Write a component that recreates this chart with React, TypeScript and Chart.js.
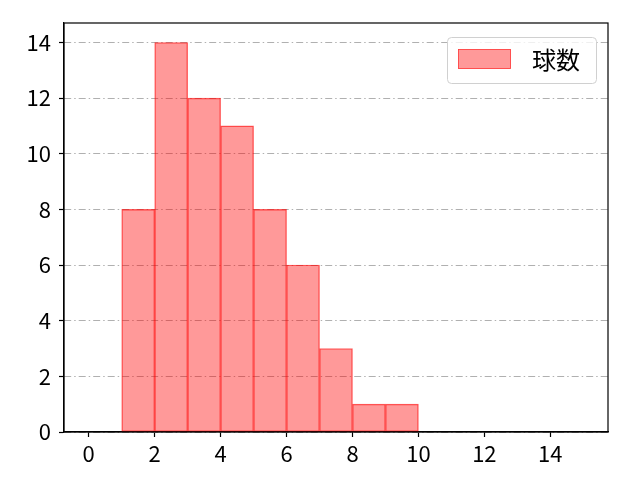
import React, { useEffect, useRef } from 'react';
import Chart from 'chart.js/auto';

// histogram bins (left edge .. left edge + 1) and counts
const binCenters = [1.5, 2.5, 3.5, 4.5, 5.5, 6.5, 7.5, 8.5, 9.5];
const counts = [8, 14, 12, 11, 8, 6, 3, 1, 1];
const seriesLabel = '球数';

const FONT = '"Noto Sans CJK JP", "Noto Sans", sans-serif';
const FILL = 'rgba(255, 0, 0, 0.4)';
const EDGE = 'rgba(255, 0, 0, 0.6)';

const framePlugin = {
  id: 'frame',
  afterDraw(chart: any) {
    const { ctx, chartArea: a } = chart;
    ctx.save();
    ctx.strokeStyle = '#000';
    ctx.lineWidth = 1.2;
    ctx.strokeRect(a.left, a.top, a.right - a.left, a.bottom - a.top);
    ctx.restore();
  },
};

const legendPlugin = {
  id: 'boxLegend',
  afterDraw(chart: any) {
    const { ctx, chartArea: a } = chart;
    const w = 149, h = 46;
    const x = a.right - 161, y = a.top + 14;
    ctx.save();
    ctx.beginPath();
    ctx.roundRect(x + 0.5, y + 0.5, w, h, 4);
    ctx.fillStyle = 'rgba(255,255,255,0.8)';
    ctx.fill();
    ctx.strokeStyle = '#d0d0d0';
    ctx.lineWidth = 1;
    ctx.stroke();
    ctx.fillStyle = FILL;
    ctx.fillRect(x + 11, y + 12, 53, 20);
    ctx.strokeStyle = EDGE;
    ctx.lineWidth = 0.8;
    ctx.strokeRect(x + 11.5, y + 12.5, 52, 19);
    ctx.fillStyle = '#000';
    ctx.font = `24px ${FONT}`;
    ctx.textBaseline = 'middle';
    ctx.fillText(chart.data.datasets[0].label, x + 85, y + 23);
    ctx.restore();
  },
};

export default function App() {
  const canvasRef = useRef<HTMLCanvasElement>(null);
  const chartRef = useRef<Chart>();

  useEffect(() => {
    if (!canvasRef.current) return;
    chartRef.current?.destroy();
    chartRef.current = new Chart(canvasRef.current, {
      type: 'bar',
      data: {
        datasets: [{
          label: seriesLabel,
          data: binCenters.map((x, i) => ({ x, y: counts[i] })),
          backgroundColor: FILL,
          borderColor: EDGE,
          borderWidth: 0.7,
          borderSkipped: false,
          barPercentage: 1,
          categoryPercentage: 1,
        }],
      },
      options: {
        animation: false,
        responsive: true,
        maintainAspectRatio: false,
        layout: { padding: { top: 23, right: 32, left: 0, bottom: 0 } },
        plugins: { legend: { display: false }, tooltip: { enabled: false } },
        scales: {
          x: {
            type: 'linear',
            min: -0.75,
            max: 15.75,
            offset: false,
            afterFit: (s: any) => { s.height = 48; },
            grid: { offset: false, drawOnChartArea: false, drawTicks: true, tickLength: 5, tickColor: '#000', tickWidth: 1.2 },
            border: { color: '#000', width: 1.2 },
            ticks: { stepSize: 2, includeBounds: false, color: '#000', padding: 3, maxRotation: 0, font: { family: FONT, size: 22 } },
          },
          y: {
            min: 0,
            max: 14.7,
            afterFit: (s: any) => { s.width = 64; },
            grid: {
              color: '#b0b0b0',
              lineWidth: 1,
              tickLength: 5,
              tickColor: '#000',
              tickWidth: 1.2,
              tickBorderDash: [],
            },
            border: { color: '#000', width: 1.2, dash: [7, 3, 1.5, 3] },
            ticks: { stepSize: 2, includeBounds: false, color: '#000', padding: 8, font: { family: FONT, size: 22 } },
          },
        },
      },
      plugins: [framePlugin, legendPlugin],
    });
    return () => { chartRef.current?.destroy(); };
  }, []);

  return (
    <div style={{ position: 'fixed', left: 0, top: 0, width: 640, height: 480, background: '#fff' }}>
      <canvas ref={canvasRef} />
    </div>
  );
}
